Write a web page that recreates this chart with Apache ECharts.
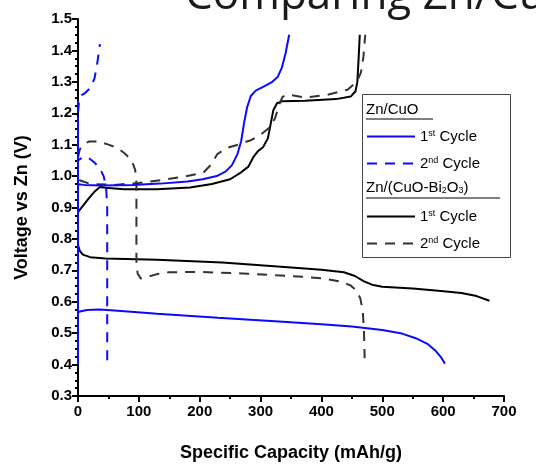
<!DOCTYPE html>
<html>
<head>
<meta charset="utf-8">
<script src="https://cdn.jsdelivr.net/npm/echarts@6/dist/echarts.min.js"></script>
<style>
html, body { margin: 0; padding: 0; background: #fff; }
#main { width: 536px; height: 467px; }
</style>
</head>
<body>
<div id="main"></div>
<script>
// Zn/CuO cell, [capacity mAh/g, voltage V]
var cuo1Discharge = [[0,1.19],[0,0.567],[5,0.57],[15,0.574],[35,0.575],[60,0.572],[130,0.562],[230,0.549],[330,0.537],[400,0.528],[450,0.521],[500,0.51],[530,0.5],[555,0.484],[575,0.465],[588,0.443],[597,0.422],[603,0.403]];
var cuo1Charge = [[0,0.41],[0,0.974],[10,0.972],[40,0.97],[90,0.972],[135,0.976],[180,0.983],[205,0.99],[228,1.0],[243,1.015],[253,1.035],[262,1.07],[268,1.11],[273,1.17],[278,1.22],[284,1.255],[292,1.272],[305,1.285],[318,1.298],[328,1.315],[335,1.345],[341,1.39],[347,1.45]];
var cuo2Discharge = [[0,1.24],[0,1.05],[3,1.045],[8,1.06],[16,1.06],[26,1.045],[36,1.025],[42,1.0],[46,0.97],[48,0.9],[48,0.4]];
var cuo2Charge = [[0,0.4],[0,1.2],[2,1.245],[6,1.258],[12,1.265],[20,1.28],[27,1.31],[31,1.35],[36,1.42]];

// Zn/(CuO-Bi2O3) cell
var bi1Discharge = [[0,1.0],[0,0.78],[3,0.762],[8,0.75],[20,0.742],[45,0.738],[130,0.734],[237,0.725],[345,0.71],[400,0.702],[437,0.694],[455,0.682],[470,0.665],[485,0.653],[500,0.648],[550,0.642],[592,0.635],[630,0.628],[655,0.618],[676,0.603]];
var bi1Charge = [[0,0.885],[8,0.905],[18,0.93],[28,0.952],[36,0.965],[45,0.963],[76,0.958],[130,0.958],[184,0.964],[220,0.975],[250,0.99],[268,1.012],[280,1.03],[288,1.06],[296,1.08],[304,1.092],[312,1.12],[317,1.17],[321,1.21],[327,1.232],[335,1.238],[373,1.24],[424,1.245],[448,1.253],[456,1.27],[459,1.3],[461,1.37],[463,1.45]];
var bi2Discharge = [[0,1.06],[3,1.085],[8,1.1],[18,1.11],[34,1.11],[50,1.1],[65,1.09],[78,1.07],[88,1.05],[94,1.02],[96,0.98],[96,0.72],[98,0.69],[103,0.674],[115,0.68],[130,0.688],[150,0.694],[200,0.695],[270,0.69],[350,0.682],[400,0.675],[430,0.665],[448,0.652],[458,0.635],[464,0.61],[468,0.57],[470,0.5],[471,0.42]];
var bi2Charge = [[0,0.88],[0,0.99],[5,0.985],[20,0.975],[60,0.972],[100,0.978],[140,0.988],[173,0.998],[206,1.011],[218,1.035],[229,1.07],[245,1.09],[263,1.1],[285,1.115],[301,1.133],[315,1.155],[324,1.185],[330,1.225],[336,1.252],[344,1.26],[373,1.25],[409,1.258],[443,1.275],[458,1.3],[465,1.33],[469,1.38],[472,1.45]];

var BLUE = '#0a0aff', BLACK = '#000', DASHBLACK = '#333';
var font = 'Liberation Sans, Arial, sans-serif';

function curve(name, data, color, dashed) {
	return {
		name: name,
		type: 'line',
		data: data,
		symbol: 'none',
		smooth: false,
		lineStyle: { color: color, width: 2, type: dashed ? [10, 8] : 'solid' },
		itemStyle: { color: color }
	};
}

function cycleLabel(name) {
	var c = name.indexOf('1st') >= 0 ? ['1', 'st'] : ['2', 'nd'];
	return '{n|' + c[0] + '}{s|' + c[1] + '}{n| Cycle}';
}

var legendText = {
	fontFamily: font, fontSize: 15, color: '#000',
	rich: {
		n: { fontFamily: font, fontSize: 15, color: '#000' },
		s: { fontFamily: font, fontSize: 9, color: '#000', verticalAlign: 'top' }
	}
};

var myChart = echarts.init(document.getElementById('main'));
var option = {
	animation: false,
	title: {
		text: 'Comparing Zn/CuO',
		left: 180, top: -31,
		textStyle: { fontFamily: 'Open Sans', fontWeight: 'normal', fontSize: 44, color: '#1a1a1a' }
	},
	grid: { left: 78, right: 32, top: 19, bottom: 70 },
	legend: [{
		data: ['Zn/CuO 1st Cycle', 'Zn/CuO 2nd Cycle'],
		orient: 'vertical', left: 366, top: 129, padding: 0, itemGap: 12,
		itemWidth: 48, itemHeight: 14,
		itemStyle: { opacity: 0 },
		formatter: cycleLabel, textStyle: legendText
	}, {
		data: ['Zn/(CuO-Bi2O3) 1st Cycle', 'Zn/(CuO-Bi2O3) 2nd Cycle'],
		orient: 'vertical', left: 366, top: 209, padding: 0, itemGap: 12,
		itemWidth: 48, itemHeight: 14,
		itemStyle: { opacity: 0 },
		formatter: cycleLabel, textStyle: legendText
	}],
	graphic: [
		{ type: 'rect', left: 362, top: 94, z: 0,
			shape: { width: 148, height: 163 },
			style: { fill: '#fff', stroke: '#444', lineWidth: 1 } },
		{ type: 'text', left: 366, top: 102, z: 10,
			style: { text: 'Zn/CuO', fontFamily: font, fontSize: 15, fill: '#000' } },
		{ type: 'line', z: 10, shape: { x1: 366, y1: 119, x2: 433, y2: 119 },
			style: { stroke: '#000', lineWidth: 1 } },
		{ type: 'text', left: 366, top: 180, z: 10,
			style: { text: 'Zn/(CuO-Bi{b|2}O{b|3})', fontFamily: font, fontSize: 15, fill: '#000',
				rich: { b: { fontFamily: font, fontSize: 9, verticalAlign: 'bottom', fill: '#000' } } } },
		{ type: 'line', z: 10, shape: { x1: 366, y1: 198, x2: 500, y2: 198 },
			style: { stroke: '#000', lineWidth: 1 } }
	],
	xAxis: {
		type: 'value', min: 0, max: 700, interval: 100,
		name: 'Specific Capacity (mAh/g)', nameLocation: 'middle', nameGap: 48,
		nameTextStyle: { fontFamily: font, fontWeight: 'bold', fontSize: 18, color: '#000' },
		axisLine: { lineStyle: { color: '#000', width: 2 } },
		axisTick: { inside: false, length: 6, lineStyle: { width: 2 } },
		minorTick: { show: true, splitNumber: 2, length: 3, lineStyle: { color: '#000', width: 2 } },
		splitLine: { show: false },
		axisLabel: { fontFamily: font, fontWeight: 'bold', fontSize: 15, color: '#000', margin: 8 }
	},
	yAxis: {
		type: 'value', min: 0.3, max: 1.5, interval: 0.1,
		name: 'Voltage vs Zn (V)', nameLocation: 'middle', nameGap: 47,
		nameTextStyle: { fontFamily: font, fontWeight: 'bold', fontSize: 18, color: '#000' },
		axisLine: { show: true, lineStyle: { color: '#000', width: 2 } },
		axisTick: { show: true, inside: false, length: 6, lineStyle: { width: 2 } },
		minorTick: { show: true, splitNumber: 4, length: 3, lineStyle: { color: '#000', width: 2 } },
		splitLine: { show: false },
		axisLabel: { fontFamily: font, fontWeight: 'bold', fontSize: 15, color: '#000', margin: 6,
			formatter: function (v) { return v.toFixed(1); } }
	},
	series: [
		curve('Zn/(CuO-Bi2O3) 1st Cycle', bi1Discharge, BLACK, false),
		curve('Zn/(CuO-Bi2O3) 1st Cycle', bi1Charge, BLACK, false),
		curve('Zn/(CuO-Bi2O3) 2nd Cycle', bi2Discharge, DASHBLACK, true),
		curve('Zn/(CuO-Bi2O3) 2nd Cycle', bi2Charge, DASHBLACK, true),
		curve('Zn/CuO 1st Cycle', cuo1Discharge, BLUE, false),
		curve('Zn/CuO 1st Cycle', cuo1Charge, BLUE, false),
		curve('Zn/CuO 2nd Cycle', cuo2Discharge, BLUE, true),
		curve('Zn/CuO 2nd Cycle', cuo2Charge, BLUE, true)
	]
};
myChart.setOption(option);
window.onresize = function () {
	myChart.resize();
};
</script>
</body>
</html>
